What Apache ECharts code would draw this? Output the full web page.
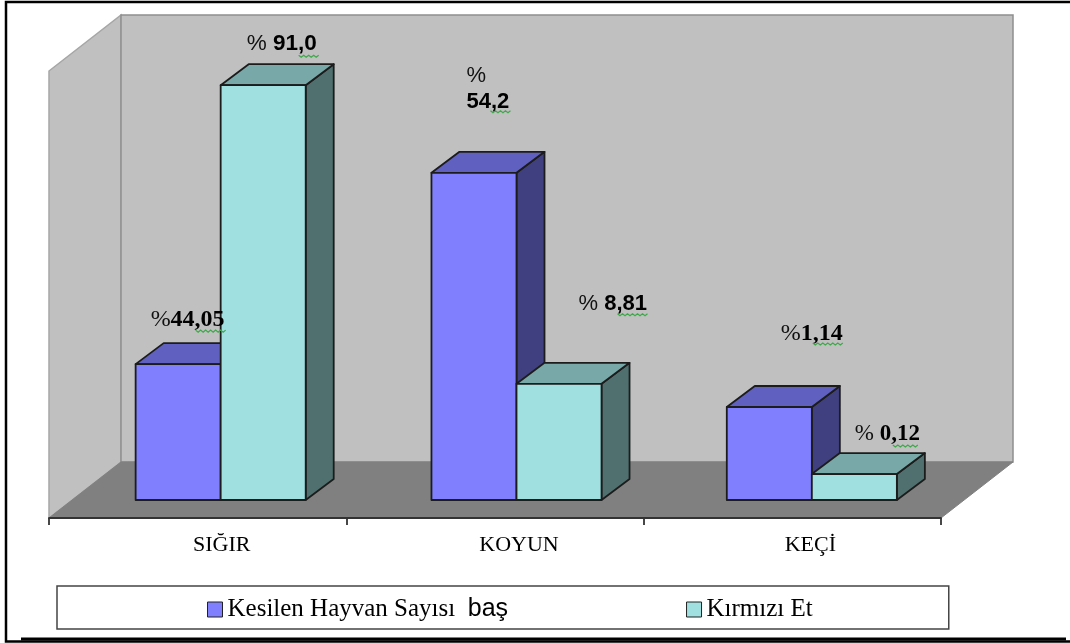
<!DOCTYPE html>
<html>
<head>
<meta charset="utf-8">
<style>html,body{margin:0;padding:0;background:#fff}#c{width:1070px;height:643px}</style>
<script src="https://cdn.jsdelivr.net/npm/echarts@6/dist/echarts.min.js"></script>
</head>
<body>
<div id="c"></div>
<script>
// ---- data ----
var categories = ['SIĞIR', 'KOYUN', 'KEÇİ'];
var seriesNames = ['Kesilen Hayvan Sayısı baş', 'Kırmızı Et'];
// bar heights, as a share of the value axis
var hayvanValues = [30.4, 73.2, 20.8];
var etValues = [92.8, 26.0, 5.8];
// data labels as printed in the picture
var hayvanLabels = [['%', '44,05'], ['%\n', '54,2'], ['%', '1,14']];
var etLabels = [['% ', '91,0'], ['% ', '8,81'], ['% ', '0,12']];

// ---- layout / style ----
var WALL_DX = 72, WALL_DY = 56;         // depth of the chart box
var BAR_DX = 28, BAR_DY = 21;           // depth of a bar
var BAR_SHIFT_X = [23, 21.5, 19.5], BAR_SHIFT_Y = 18; // bar front plane, behind the axis plane
var BAR_WIDTH = 0.286;                  // of a category band
var CATEGORY_LABEL_PAD = [48, 48, 36];  // nudges each category label to the right
// text offset from the bar's front top-left corner: [dx, dy of text centre]
var hayvanLabelPos = [[15, -44], [35, -84], [54, -73]];
var etLabelPos = [[26, -41], [62, -80], [43, -40]];
// squiggle under the number: [dx, dy, width], same origin
var hayvanSquiggle = [[60, -34, 30], [59, -62, 20], [86, -64, 30]];
var etSquiggle = [[78, -30, 20], [101, -70, 31], [81, -29, 27]];
var hayvanFonts = [['Liberation Serif', 24], ['Liberation Sans', 22], ['Liberation Serif', 24]];
var etFonts = [['Liberation Sans', 22.5], ['Liberation Sans', 22], ['Liberation Serif', 23]];
var PALETTE = [
  { front: '#8080FF', top: '#6060C0', side: '#404080' },
  { front: '#A0E0E0', top: '#78A8A8', side: '#507070' }
];

function zigzag(x, y, w) {
  var pts = [], i = 0;
  for (var px = x; px <= x + w; px += 2.5) { pts.push([px, y + (i++ % 2 ? 2 : 0)]); }
  return pts;
}

function barBox(s, api) {
  var i = api.value(0);
  var w = api.size([1, 0])[0] * BAR_WIDTH;
  var top = api.coord([i, api.value(1)]);
  var base = api.coord([i, 0]);
  var xl = top[0] + BAR_SHIFT_X[i] + (s === 0 ? -w : 0);
  return { i: i, xl: xl, xr: xl + w, yb: base[1] - BAR_SHIFT_Y, yt: top[1] - BAR_SHIFT_Y };
}

function barRenderer(s) {
  var col = PALETTE[s];
  return function (params, api) {
    var b = barBox(s, api);
    var st = { stroke: '#1c1c1c', lineWidth: 1.8, lineJoin: 'round' };
    function poly(pts, fill) {
      return { type: 'polygon', shape: { points: pts }, style: Object.assign({ fill: fill }, st) };
    }
    return {
      type: 'group',
      children: [
        poly([[b.xr, b.yb], [b.xr + BAR_DX, b.yb - BAR_DY], [b.xr + BAR_DX, b.yt - BAR_DY], [b.xr, b.yt]], col.side),
        poly([[b.xl, b.yt], [b.xl + BAR_DX, b.yt - BAR_DY], [b.xr + BAR_DX, b.yt - BAR_DY], [b.xr, b.yt]], col.top),
        poly([[b.xl, b.yb], [b.xr, b.yb], [b.xr, b.yt], [b.xl, b.yt]], col.front)
      ]
    };
  };
}

function labelRenderer(s, labels, labelPos, squiggle, fonts) {
  return function (params, api) {
    var b = barBox(s, api), i = b.i;
    var lp = labelPos[i], sq = squiggle[i], f = fonts[i];
    return {
      type: 'group',
      silent: true,
      children: [
        {
          type: 'text',
          style: {
            x: b.xl + lp[0], y: b.yt + lp[1], verticalAlign: 'middle', align: 'left',
            text: '{p|' + labels[i][0].replace('\n', '}\n{p|') + '}{n|' + labels[i][1] + '}',
            rich: {
              p: { font: 'normal ' + f[1] + 'px "' + f[0] + '"', fill: '#111', lineHeight: 26 },
              n: { font: 'bold ' + f[1] + 'px "' + f[0] + '"', fill: '#000', lineHeight: 26 }
            }
          }
        },
        {
          type: 'polyline',
          shape: { points: zigzag(b.xl + sq[0], b.yt + sq[1], sq[2]) },
          style: { fill: null, stroke: '#3fa84a', lineWidth: 1.2 }
        }
      ]
    };
  };
}

function backdrop(params, api) {
  var c = params.coordSys;
  var xL = c.x, xR = c.x + c.width, yT = c.y, yB = c.y + c.height;
  return {
    type: 'group',
    silent: true,
    children: [
      { type: 'polygon', shape: { points: [[xL, yT], [xL + WALL_DX, yT - WALL_DY], [xL + WALL_DX, yB - WALL_DY], [xL, yB]] },
        style: { fill: '#C0C0C0', stroke: '#a6a6a6', lineWidth: 1.5 } },
      { type: 'rect', shape: { x: xL + WALL_DX, y: yT - WALL_DY, width: c.width, height: c.height },
        style: { fill: '#C0C0C0', stroke: '#8e8e8e', lineWidth: 1.5 } },
      { type: 'polygon', shape: { points: [[xL, yB], [xR, yB], [xR + WALL_DX, yB - WALL_DY], [xL + WALL_DX, yB - WALL_DY]] },
        style: { fill: '#808080', stroke: '#808080', lineWidth: 1 } }
    ]
  };
}

function rows(values) { return values.map(function (v, i) { return [i, v]; }); }

var chart = echarts.init(document.getElementById('c'), null, { renderer: 'canvas' });
chart.setOption({
  animation: false,
  backgroundColor: '#fff',
  grid: { left: 49, right: 129, top: 71, bottom: 125 },
  xAxis: {
    type: 'category', boundaryGap: true, z: 10,
    data: categories.map(function (c, i) {
      return { value: c, textStyle: { padding: [0, 0, 0, CATEGORY_LABEL_PAD[i]] } };
    }),
    axisLine: { lineStyle: { color: '#333', width: 1.8 } },
    axisTick: { show: true, length: 7, lineStyle: { color: '#333', width: 1.8 } },
    axisLabel: { interval: 0, margin: 16, color: '#000', fontFamily: 'Liberation Serif', fontSize: 22 }
  },
  yAxis: { type: 'value', min: 0, max: 100, show: false },
  legend: {
    data: seriesNames,
    left: 57, top: 586, orient: 'horizontal', icon: 'rect',
    itemWidth: 15, itemHeight: 15, itemGap: 178,
    padding: [11, 136, 7, 150],
    borderColor: '#444', borderWidth: 1.5, backgroundColor: '#fff',
    itemStyle: { borderColor: '#222', borderWidth: 1 },
    selectedMode: false,
    formatter: function (name) {
      var parts = name.split(' ');
      return parts[parts.length - 1] === 'baş'
        ? '{t|' + parts.slice(0, -1).join(' ') + '  }{b|baş}'
        : '{t|' + name + '}';
    },
    textStyle: {
      rich: {
        t: { fontFamily: 'Liberation Serif', fontSize: 25, color: '#000', lineHeight: 28 },
        b: { fontFamily: 'Liberation Sans', fontSize: 25, color: '#000', lineHeight: 28 }
      }
    }
  },
  graphic: [
    { type: 'rect', shape: { x: 6, y: 2, width: 1080, height: 639.5 }, style: { fill: null, stroke: '#000', lineWidth: 2.5 }, silent: true },
    { type: 'line', shape: { x1: 21, y1: 639, x2: 1066, y2: 639 }, style: { stroke: '#000', lineWidth: 3 }, silent: true }
  ],
  series: [
    { type: 'custom', name: '_backdrop', coordinateSystem: 'cartesian2d', data: [[0, 0]], renderItem: backdrop, z: 1, silent: true, clip: false },
    { type: 'custom', name: seriesNames[0], coordinateSystem: 'cartesian2d', data: rows(hayvanValues),
      renderItem: barRenderer(0), itemStyle: { color: PALETTE[0].front }, z: 3, clip: false },
    { type: 'custom', name: seriesNames[1], coordinateSystem: 'cartesian2d', data: rows(etValues),
      renderItem: barRenderer(1), itemStyle: { color: PALETTE[1].front }, z: 4, clip: false },
    { type: 'custom', name: '_labels0', coordinateSystem: 'cartesian2d', data: rows(hayvanValues),
      renderItem: labelRenderer(0, hayvanLabels, hayvanLabelPos, hayvanSquiggle, hayvanFonts), z: 5, silent: true, clip: false },
    { type: 'custom', name: '_labels1', coordinateSystem: 'cartesian2d', data: rows(etValues),
      renderItem: labelRenderer(1, etLabels, etLabelPos, etSquiggle, etFonts), z: 5, silent: true, clip: false }
  ]
});
</script>
</body>
</html>
